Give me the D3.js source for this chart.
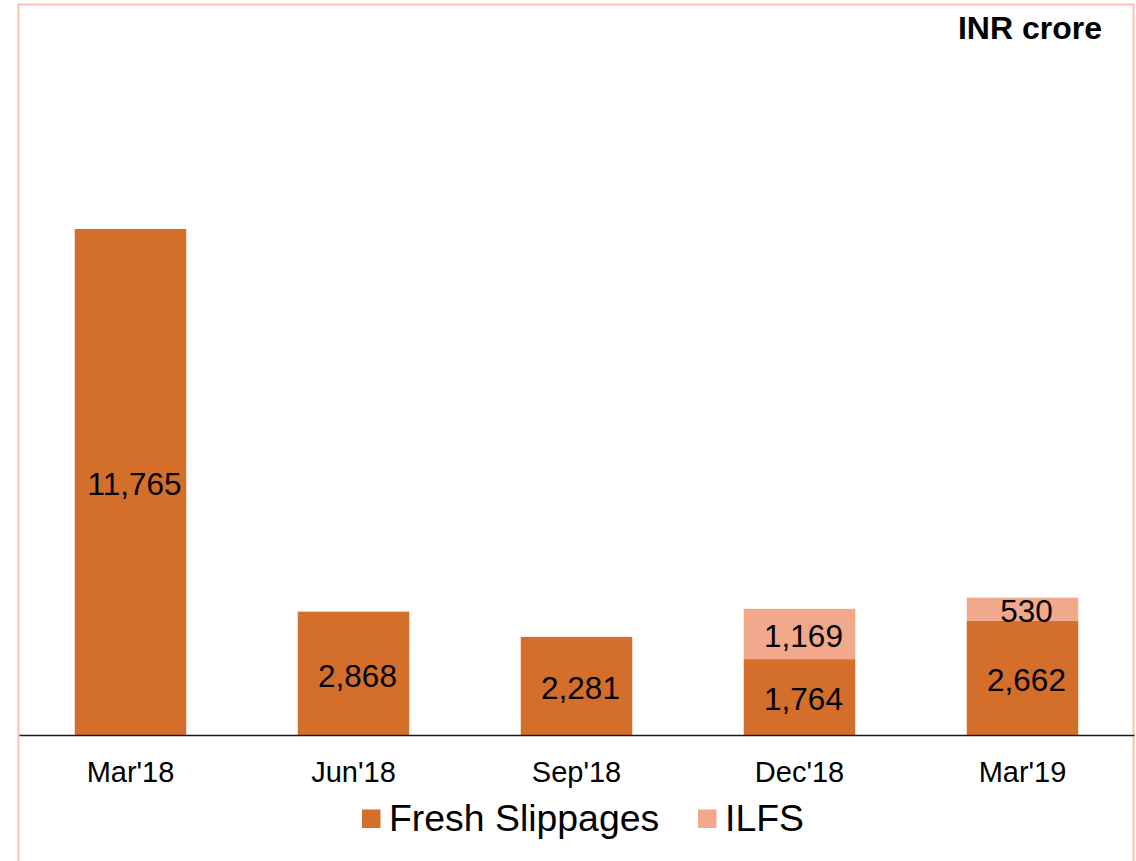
<!DOCTYPE html>
<html>
<head>
<meta charset="utf-8">
<script src="https://cdn.jsdelivr.net/npm/d3@7/dist/d3.min.js"></script>
<style>
  html, body { margin: 0; padding: 0; background: #fff; }
  svg { display: block; font-family: "Liberation Sans", Arial, sans-serif; }
</style>
</head>
<body>
<svg id="chart" width="1136" height="861"></svg>
<script>
const categories = ["Mar'18", "Jun'18", "Sep'18", "Dec'18", "Mar'19"];
const freshSlippages = [11765, 2868, 2281, 1764, 2662];
const ilfs = [null, null, null, 1169, 530];
const seriesNames = ["Fresh Slippages", "ILFS"];
const seriesColors = ["#d36f2b", "#f2a98b"];
const unitLabel = "INR crore";

const svg = d3.select("#chart");

// frame
svg.append("rect")
  .attr("x", 18.5).attr("y", 4.5)
  .attr("width", 1115).attr("height", 870)
  .attr("fill", "#fff")
  .attr("stroke", "#fbbcaa").attr("stroke-width", 1.8);

const x = d3.scaleBand()
  .domain(categories)
  .range([19, 1134])
  .paddingInner(0.5)
  .paddingOuter(0.25);

const y = d3.scaleLinear()
  .domain([0, 17000])
  .range([735, 3.85]);

const data = categories.map((c, i) => ({
  cat: c,
  fresh: freshSlippages[i],
  ilfs: ilfs[i] || 0
}));

const layers = d3.stack().keys(["fresh", "ilfs"])(data);
const fmt = d3.format(",");

layers.forEach((layer, li) => {
  const g = svg.append("g");
  const segs = layer.filter(d => d[1] - d[0] > 0);
  g.selectAll("rect")
    .data(segs)
    .join("rect")
    .attr("x", d => x(d.data.cat))
    .attr("y", d => y(d[1]))
    .attr("width", x.bandwidth())
    .attr("height", d => y(d[0]) - y(d[1]))
    .attr("fill", seriesColors[li]);
  g.selectAll("text")
    .data(segs)
    .join("text")
    .attr("x", d => x(d.data.cat) + x.bandwidth() / 2 + 4)
    .attr("y", d => (y(d[0]) + y(d[1])) / 2 + 2)
    .attr("dy", "0.36em")
    .attr("text-anchor", "middle")
    .attr("font-size", 31.5)
    .attr("fill", "#000")
    .text(d => fmt(d[1] - d[0]));
});

// x axis
const ax = svg.append("g").attr("transform", "translate(0,735)")
  .call(d3.axisBottom(x).tickSize(0).tickPadding(0));
ax.select(".domain").attr("stroke", "#1a1a1a").attr("stroke-width", 1.6);
ax.selectAll(".tick text")
  .attr("font-size", 29)
  .attr("font-family", "Liberation Sans, Arial, sans-serif")
  .attr("fill", "#000")
  .attr("dy", 0)
  .attr("y", 47);

// unit label
svg.append("text")
  .attr("x", 1102).attr("y", 39)
  .attr("text-anchor", "end")
  .attr("font-size", 32)
  .attr("font-weight", "bold")
  .attr("fill", "#000")
  .text(unitLabel);

// legend
const legendX = [362, 698];
const lg = svg.append("g");
seriesNames.forEach((name, i) => {
  lg.append("rect")
    .attr("x", legendX[i]).attr("y", 809.5)
    .attr("width", 18.5).attr("height", 18.5)
    .attr("fill", seriesColors[i]);
  lg.append("text")
    .attr("x", legendX[i] + 27).attr("y", 831)
    .attr("font-size", 37.4)
    .attr("fill", "#000")
    .text(name);
});
</script>
</body>
</html>
